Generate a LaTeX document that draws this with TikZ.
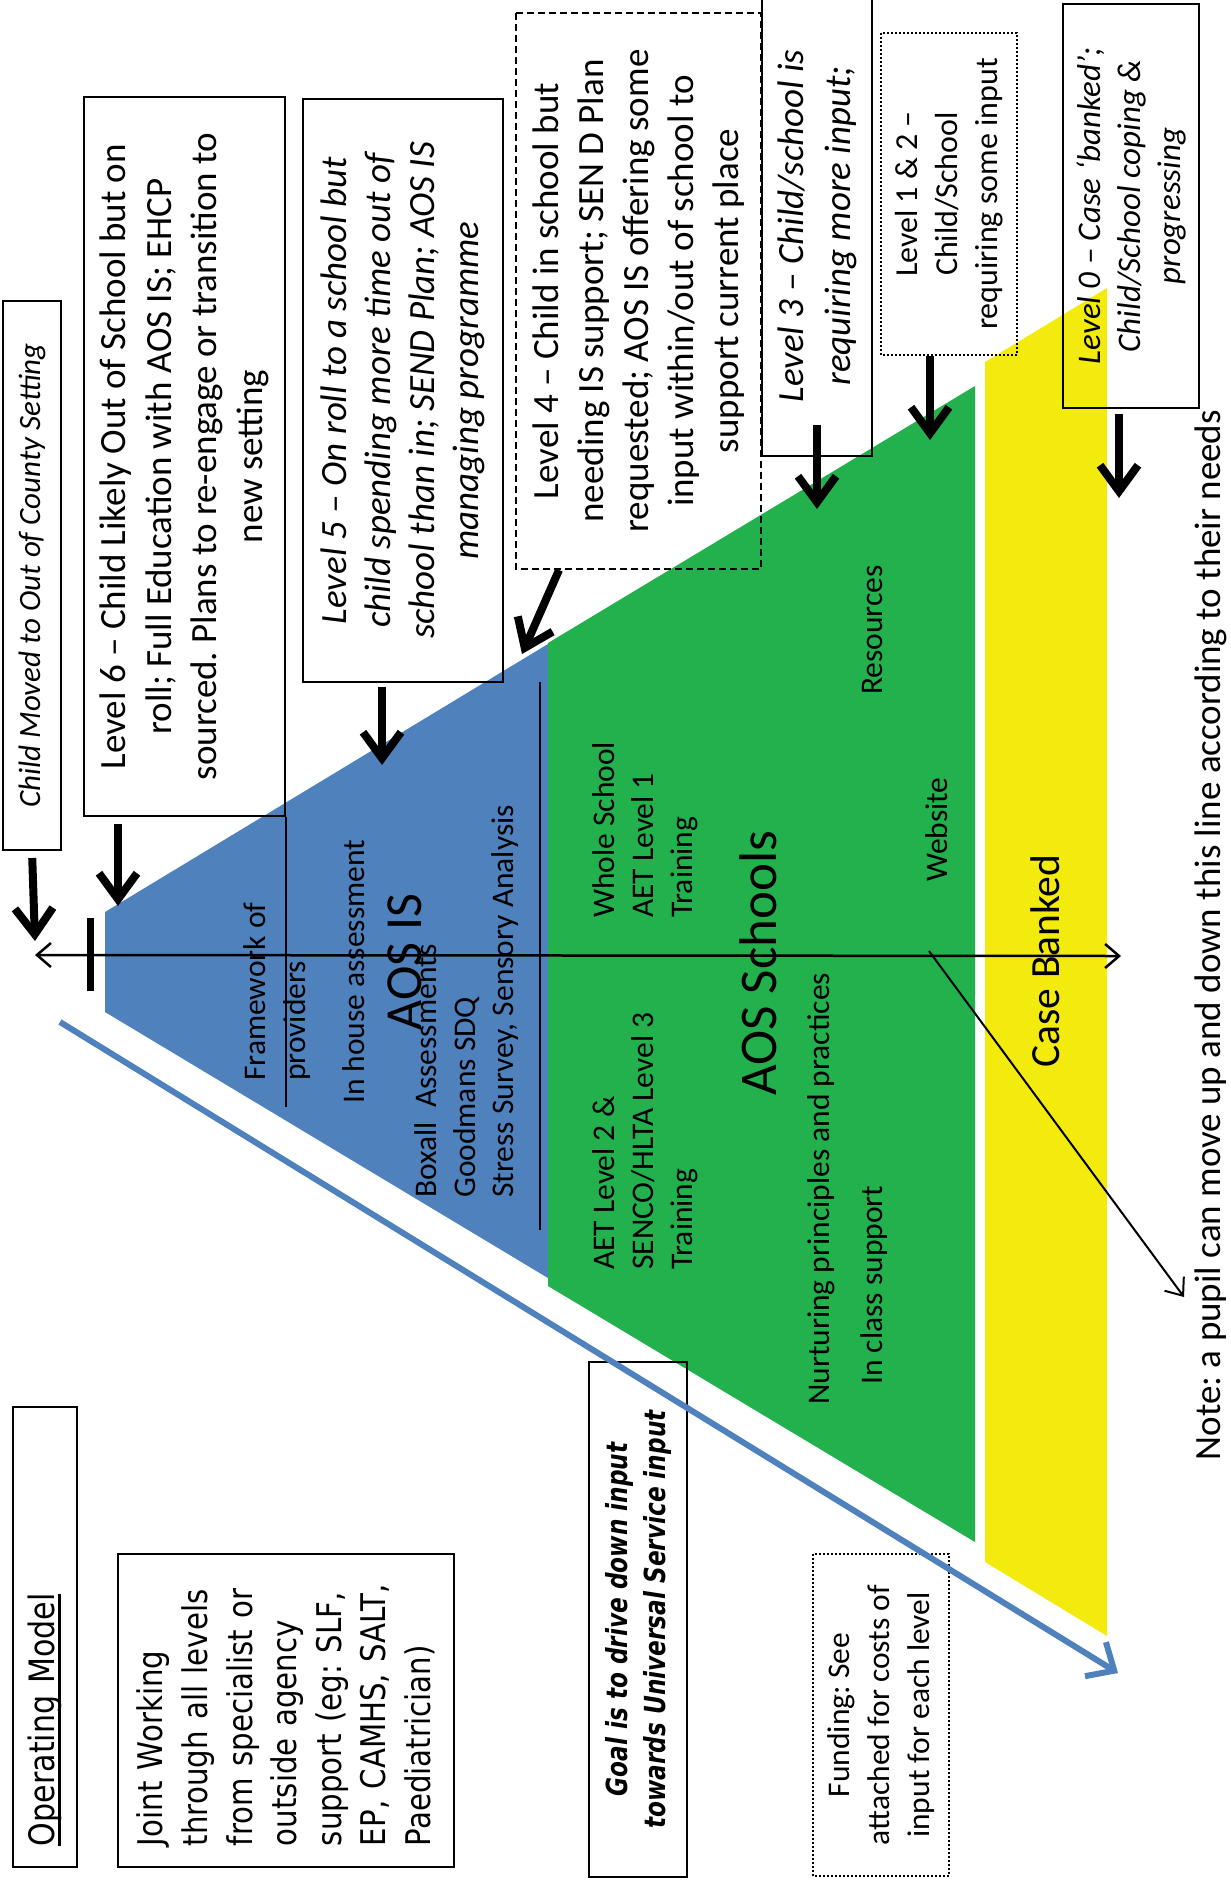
\documentclass[tikz,border=0pt]{standalone}
\usepackage{fontspec}
\setmainfont{Carlito}
\newfontfamily\tahoma[FakeStretch=0.86]{DejaVu Sans}
\newfontfamily\tahomab[FakeStretch=0.8]{DejaVu Sans}
\usetikzlibrary{arrows.meta}

\definecolor{aosblue}{RGB}{79,129,189}
\definecolor{aosgreen}{RGB}{34,177,76}
\definecolor{aosyellow}{RGB}{243,234,14}

\newcommand{\fs}[2]{\fontsize{#1}{#2}\selectfont}
\newcommand{\ulined}[1]{\setbox0=\hbox{#1}\rlap{\rule[-6pt]{\wd0}{2.5pt}}\box0}
\frenchspacing

\begin{document}
\begin{tikzpicture}[x=1pt, y=-1pt,
  vtext/.style={rotate=90, inner sep=0pt},
  levelbox/.style={rotate=90, draw, line width=2pt, inner sep=0pt, align=center},
  bigarrow/.style={line width=8pt, -{Straight Barb[length=26pt,width=38pt]}},
  thinline/.style={line width=2.5pt}]
\useasboundingbox (0,0) rectangle (1231,1888);

\fill [aosblue] (105,912) -- (548,644) -- (548,1278) -- (105,1012) -- cycle;
\fill [aosgreen] (548,643) -- (975,386) -- (975,1542) -- (548,1286) -- cycle;
\fill [aosyellow] (985,362) -- (1107,288) -- (1107,1636) -- (985,1562) -- cycle;

\node [levelbox, minimum width=549pt, minimum height=58pt, font=\fs{31}{38}\itshape] (moved) at (32,575.5) {Child Moved to Out of County Setting};
\node [levelbox, minimum width=719pt, minimum height=201pt, font=\fs{37}{45.5}] (l6) at (184.5,456.5) {Level 6 – Child Likely Out of School but on\\roll; Full Education with AOS IS; EHCP\\sourced. Plans to re-engage or transition to\\new setting};
\node [levelbox, minimum width=583pt, minimum height=200pt, font=\fs{37}{44}\itshape] (l5) at (403,390.5) {Level 5 – On roll to a school but\\child spending more time out of\\school than in; SEND Plan; AOS IS\\managing programme};
\node [levelbox, dash pattern=on 7pt off 4pt, minimum width=556pt, minimum height=245pt, font=\fs{37}{45}] (l4) at (638.5,291) {Level 4 – Child in school but\\needing IS support; SEN D Plan\\requested; AOS IS offering some\\input within/out of school to\\support current place};
\node [levelbox, minimum width=460pt, minimum height=110pt, font=\fs{37}{47}\itshape] (l3) at (817,226) {Level 3 – Child/school is\\requiring more input;};
\node [levelbox, dash pattern=on 2pt off 2pt, minimum width=322pt, minimum height=136pt, font=\fs{32}{40}] (l12) at (949,194) {Level 1 \& 2 –\\Child/School\\requiring some input};
\node [levelbox, minimum width=404pt, minimum height=136pt, font=\fs{33}{40}\itshape] (l0) at (1131,206) {Level 0 – Case ‘banked’;\\Child/School coping \&\\progressing};

\node [levelbox, minimum width=460pt, minimum height=64.5pt, text width=418pt, inner xsep=21pt, align=left, font=\tahoma\fs{35}{42}] (model) at (45,1637) {\ulined{Operating Model}};
\node [levelbox, minimum width=313pt, minimum height=336pt, text width=271pt, inner xsep=21pt, align=left, font=\tahoma\fs{34}{44.6}] (joint) at (286,1710.5) {Joint Working\\through all levels\\from specialist or\\outside agency\\support (eg: SLF,\\EP, CAMHS, SALT,\\Paediatrician)};
\node [levelbox, minimum width=515pt, minimum height=98pt, font=\tahomab\bfseries\itshape\fs{29}{38}] (goal) at (638,1619.5) {Goal is to drive down input\\towards Universal Service input};
\node [levelbox, dash pattern=on 2pt off 2pt, minimum width=322pt, minimum height=136pt, font=\fs{31.5}{40}] (funding) at (881,1715) {Funding: See\\attached for costs of\\input for each level};

\node [vtext, anchor=west, align=left, font=\fs{31.5}{40}] (frame) at (277,1081) {Framework of\\providers};
\node [vtext, anchor=west, font=\fs{31.5}{38.5}] (inhouse) at (354,1104) {In house assessment};
\node [vtext, font=\fs{52}{60}] (aosis) at (405,962) {AOS IS};
\node [vtext, anchor=west, align=left, font=\fs{31.5}{38.5}] (boxall) at (467,1198) {Boxall\ \ Assessments\\Goodmans SDQ\\Stress Survey, Sensory Analysis};
\node [vtext, anchor=west, align=left, font=\fs{31.5}{39}] (whole) at (645,918) {Whole School\\AET Level 1\\Training};
\node [vtext, font=\fs{53}{60}] (aosschools) at (758,963) {AOS Schools};
\node [vtext, anchor=west, align=left, font=\fs{31.5}{39}] (aet) at (645,1270) {AET Level 2 \&\\SENCO/HLTA Level 3\\Training};
\node [vtext, anchor=west, font=\fs{31.5}{39}] (nurture) at (821,1405) {Nurturing principles and practices};
\node [vtext, anchor=west, font=\fs{31.5}{39}] (inclass) at (874,1385) {In class support};
\node [vtext, anchor=west, font=\fs{31.5}{39}] (resources) at (873,695) {Resources};
\node [vtext, anchor=west, font=\fs{31.5}{39}] (website) at (937,882) {Website};
\node [vtext, font=\fs{41.5}{48}] (banked) at (1045,961) {Case Banked};
\node [vtext, font=\fs{37}{44}] (note) at (1211,935) {Note: a pupil can move up and down this line according to their needs};

\draw [thinline] (l6.south west) -- ++(0,290);
\draw [thinline] (540,682) -- (540,1230);
\draw [line width=7pt] (90,918) -- (90,991);

\coordinate (axl) at (35,955);
\coordinate (axr) at (1121,956);
\draw [thinline, {Straight Barb[length=14pt,width=24pt]}-{Straight Barb[length=14pt,width=24pt]}] (axl) -- (axr);

\coordinate (nstart) at (929,951);
\coordinate (ntip) at (1184,1297);
\draw [line width=2pt, -{Straight Barb[length=15pt,width=24pt]}] (nstart) -- (ntip);

\coordinate (gstart) at (60,1022);
\coordinate (gend) at (1118,1673);
\draw [aosblue, line width=6pt, -{Straight Barb[length=22pt,width=40pt]}] (gstart) -- (gend);

\coordinate (tm) at (35,941);
\coordinate (t6) at (118,906);
\coordinate (t5) at (382,765);
\coordinate (t4) at (522,654);
\coordinate (t3) at (817,509);
\coordinate (t12) at (930,440);
\coordinate (t0) at (1119,498);

\draw [bigarrow, shorten <=7pt] (moved.west) -- (tm);
\draw [bigarrow, shorten <=7pt] (t6 |- l6.west) -- (t6);
\draw [bigarrow, shorten <=4pt] (t5 |- l5.west) -- (t5);
\draw [bigarrow] ([xshift=44pt]l4.north west) -- (t4);
\draw [bigarrow, shorten <=-32pt] (t3 |- l3.west) -- (t3);
\draw [bigarrow] (t12 |- l12.west) -- (t12);
\draw [bigarrow, shorten <=5pt] (t0 |- l0.west) -- (t0);

\end{tikzpicture}
\end{document}
